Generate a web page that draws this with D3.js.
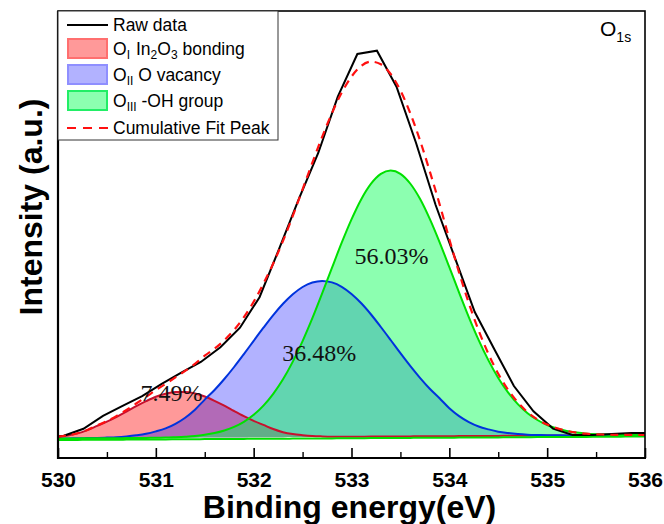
<!DOCTYPE html>
<html><head><meta charset="utf-8">
<script src="https://cdn.jsdelivr.net/npm/d3@7"></script>
<style>
html,body{margin:0;padding:0;background:#fff;}
svg{display:block;}
</style></head>
<body>
<svg id="chart" width="664" height="524"></svg>
<script>
// ---------- data ----------
const xTicks = [530, 531, 532, 533, 534, 535, 536];
const xMinorTicks = [530.5, 531.5, 532.5, 533.5, 534.5, 535.5];

// raw spectrum (0.2 eV step)
const rawEnergy = [529.86,530.06,530.26,530.46,530.66,530.86,531.06,531.26,531.46,531.66,
  531.86,532.06,532.26,532.46,532.66,532.86,533.06,533.26,533.46,533.66,
  533.86,534.06,534.26,534.46,534.66,534.86,535.06,535.26,535.46,535.66,535.86,536.06];
const rawIntensity = [20,22.2,29.2,42.1,52.1,61.8,74.2,85.4,96,110.8,
  130.3,160.8,209.1,258.7,305,361.3,404,407.3,371.3,315,
  253,199.3,146,108.7,72,46.7,29.4,23,23,24,25,25];

// fit grid (0.1 eV step)
const fitEnergy = [530.0,530.1,530.2,530.3,530.4,530.5,530.6,530.7,530.8,530.9,
  531.0,531.1,531.2,531.3,531.4,531.5,531.6,531.7,531.8,531.9,
  532.0,532.1,532.2,532.3,532.4,532.5,532.6,532.7,532.8,532.9,
  533.0,533.1,533.2,533.3,533.4,533.5,533.6,533.7,533.8,533.9,
  534.0,534.1,534.2,534.3,534.4,534.5,534.6,534.7,534.8,534.9,
  535.0,535.1,535.2,535.3,535.4,535.5,535.6,535.7,535.8,535.9,536.0];
const background = [19.5,19.6,19.6,19.7,19.7,19.8,19.8,19.9,20.0,20.0,
  20.1,20.1,20.2,20.3,20.3,20.4,20.4,20.5,20.5,20.6,
  20.7,20.7,20.8,20.8,20.9,21.0,21.0,21.1,21.1,21.2,
  21.2,21.3,21.4,21.4,21.5,21.5,21.6,21.7,21.7,21.8,
  21.8,21.9,21.9,22.0,22.1,22.1,22.2,22.2,22.3,22.4,
  22.4,22.5,22.5,22.6,22.6,22.7,22.8,22.8,22.9,22.9,23.0];
// peak heights above background
const peakI = [1.8,3.0,5.0,8.2,12.4,16.5,21.3,26.5,31.8,36.8,
  41.1,44.2,45.8,45.8,44.2,41.1,36.8,31.8,26.5,21.3,
  16.5,12.4,8.2,5.0,3.0,1.8,1.0,0.5,0.25,0.1,
  0,0,0,0,0,0,0,0,0,0,
  0,0,0,0,0,0,0,0,0,0,
  0,0,0,0,0,0,0,0,0,0,0];
const peakII = [0,0,0.1,0.2,0.4,0.6,1.0,1.7,2.7,4.2,
  6.5,9.5,14,20,28,38.0,47.6,58.5,70.5,83.3,
  96.5,109.6,122.1,133.4,142.8,150.0,154.5,156,154.5,150.0,
  142.8,133.4,122.1,109.6,96.5,83.3,70.5,58.5,47.6,38.0,
  28,20,14,9.5,6.5,4.2,2.7,1.7,1.0,0.6,
  0.4,0.2,0.1,0,0,0,0,0,0,0,0];
const peakIII = [0,0,0,0,0,0,0,0,0,0.1,
  0.2,0.3,0.6,1.0,1.7,2.8,4.5,7.0,10.6,15.6,
  22.5,31.7,43.4,57.9,75.5,95.9,118.8,143.5,169.0,194.1,
  217.4,237.5,252.9,262.7,266,262.7,252.9,237.5,217.4,194.1,
  169.0,143.5,118.8,95.9,75.5,57.9,43.4,31.7,22.5,15.6,
  10.6,7.0,4.5,2.8,1.7,1.0,0.6,0.3,0.2,0.1,0];

const peakLabels = ["7.49%", "36.48%", "56.03%"];
const peakLabelPos = [[531.16, 57], [532.67, 97], [533.41, 194]];

// ---------- layout ----------
const svg = d3.select("#chart");
const L = 58, R = 645, T = 11, B = 458;
const x = d3.scaleLinear().domain([530, 536]).range([L, R]);
const y = d3.scaleLinear().domain([0, 447]).range([B, T]);

svg.append("defs").append("clipPath").attr("id","clip")
  .append("rect").attr("x",L).attr("y",T).attr("width",R-L).attr("height",B-T);

const plot = svg.append("g").attr("clip-path","url(#clip)");

const comps = [
  {h: peakI,   fill: "rgba(255,0,0,0.40)",   stroke: "#c8102e"},
  {h: peakII,  fill: "rgba(0,0,255,0.30)",   stroke: "#0033dd"},
  {h: peakIII, fill: "rgba(0,255,80,0.45)",  stroke: "#00e000"}
];

const area = d3.area().x(d => x(d.e)).y0(d => y(d.b)).y1(d => y(d.b + d.h)).curve(d3.curveMonotoneX);
const line = d3.line().x(d => x(d.e)).y(d => y(d.v)).curve(d3.curveMonotoneX);

comps.forEach(c => {
  const pts = fitEnergy.map((e,i) => ({e, b: background[i], h: c.h[i]}));
  plot.append("path").datum(pts).attr("d", area).attr("fill", c.fill).attr("stroke","none");
});
comps.forEach(c => {
  const pts = fitEnergy.map((e,i) => ({e, v: background[i] + c.h[i]}));
  plot.append("path").datum(pts).attr("d", line).attr("fill","none")
    .attr("stroke", c.stroke).attr("stroke-width", 2);
});
// baseline (green) slightly under the peak bases
plot.append("path").datum(fitEnergy.map((e,i) => ({e, v: background[i]})))
  .attr("d", line).attr("transform","translate(0,1.5)")
  .attr("fill","none").attr("stroke","#00e000").attr("stroke-width",2);

// raw data
plot.append("path")
  .datum(rawEnergy.map((e,i) => ({e, v: rawIntensity[i]})))
  .attr("d", d3.line().x(d => x(d.e)).y(d => y(d.v)))
  .attr("fill","none").attr("stroke","#000").attr("stroke-width",2);

// cumulative fit = background + sum of components
const cumulative = fitEnergy.map((e,i) => ({e, v: background[i] + peakI[i] + peakII[i] + peakIII[i]}));
plot.append("path").datum(cumulative).attr("d", line)
  .attr("fill","none").attr("stroke","#ff1010").attr("stroke-width",2.2)
  .attr("stroke-dasharray","8,6");

// percentage labels
plot.selectAll("text.pct").data(peakLabels).join("text")
  .attr("class","pct")
  .attr("x",(d,i) => x(peakLabelPos[i][0]))
  .attr("y",(d,i) => y(peakLabelPos[i][1]))
  .attr("text-anchor","middle")
  .attr("font-family","'Liberation Serif','Times New Roman',serif")
  .attr("font-size",24).attr("fill","#111").text(d => d);

// frame
svg.append("rect").attr("x",L).attr("y",T).attr("width",R-L).attr("height",B-T)
  .attr("fill","none").attr("stroke","#000").attr("stroke-width",1.6);
svg.append("line").attr("x1",L).attr("x2",L).attr("y1",T).attr("y2",B+1)
  .attr("stroke","#000").attr("stroke-width",2.2);
svg.append("line").attr("x1",L-1).attr("x2",R+1).attr("y1",B).attr("y2",B)
  .attr("stroke","#000").attr("stroke-width",2.2);

// x axis ticks (inward)
const xAxis = d3.axisBottom(x).tickValues(xTicks).tickSizeInner(-10).tickSizeOuter(0).tickPadding(14)
  .tickFormat(d3.format("d"));
const gx = svg.append("g").attr("transform",`translate(0,${B})`).call(xAxis);
gx.select(".domain").remove();
gx.selectAll(".tick line").attr("stroke","#000").attr("stroke-width",1.6);
gx.selectAll(".tick text").attr("font-family","'Liberation Sans',Arial,sans-serif")
  .attr("font-weight","bold").attr("font-size",21).attr("fill","#000");
const xMinor = d3.axisBottom(x).tickValues(xMinorTicks).tickSizeInner(-6).tickSizeOuter(0).tickFormat("");
const gxm = svg.append("g").attr("transform",`translate(0,${B})`).call(xMinor);
gxm.select(".domain").remove();
gxm.selectAll(".tick line").attr("stroke","#000").attr("stroke-width",1.4);

// axis titles
svg.append("text").attr("x",(L+R)/2 - 2).attr("y",518).attr("text-anchor","middle")
  .attr("font-family","'Liberation Sans',Arial,sans-serif").attr("font-weight","bold")
  .attr("font-size",32).text("Binding energy(eV)");
svg.append("text").attr("transform","translate(42,207) rotate(-90)").attr("text-anchor","middle")
  .attr("font-family","'Liberation Sans',Arial,sans-serif").attr("font-weight","bold")
  .attr("font-size",32).text("Intensity (a.u.)");

// O1s label
const o1s = svg.append("text").attr("x",600).attr("y",36)
  .attr("font-family","'Liberation Sans',Arial,sans-serif").attr("font-size",21);
o1s.append("tspan").text("O");
o1s.append("tspan").attr("font-size",14).attr("dy",6).text("1s");

// legend
const lg = svg.append("g").attr("font-family","'Liberation Sans',Arial,sans-serif").attr("font-size",17.5);
lg.append("rect").attr("x",L).attr("y",T).attr("width",220).attr("height",129)
  .attr("fill","#fff").attr("stroke","#333").attr("stroke-width",1);
const rowY = [25, 49, 75, 101, 128];
lg.append("line").attr("x1",67).attr("x2",108).attr("y1",rowY[0]).attr("y2",rowY[0])
  .attr("stroke","#000").attr("stroke-width",2);
const swFill = ["rgba(255,0,0,0.40)","rgba(0,0,255,0.30)","rgba(0,255,80,0.45)"];
const swStroke = ["#ff6f6f","#8f8fff","#22ee66"];
[1,2,3].forEach((r,i) => {
  lg.append("rect").attr("x",68).attr("y",rowY[r]-10).attr("width",39).attr("height",19)
    .attr("fill",swFill[i]).attr("stroke",swStroke[i]).attr("stroke-width",2);
});
lg.append("line").attr("x1",67).attr("x2",108).attr("y1",rowY[4]).attr("y2",rowY[4])
  .attr("stroke","#ff1010").attr("stroke-width",2.2).attr("stroke-dasharray","9,7");

function legText(row, parts){
  const t = lg.append("text").attr("x",113).attr("y",rowY[row]+6).attr("xml:space","preserve");
  parts.forEach(p => {
    const s = t.append("tspan").text(p[0]);
    if (p[1] === "sub") { s.attr("font-size",12).attr("dy",4); }
    if (p[1] === "up") { s.attr("dy",-4); }
    if (p[2]) s.attr("dx",p[2]);
  });
}
legText(0, [["Raw data"]]);
legText(1, [["O"],["I","sub"],["In","up",6],["2","sub"],["O","up"],["3","sub"],[" bonding","up"]]);
legText(2, [["O"],["II","sub"],[" O vacancy","up"]]);
legText(3, [["O"],["III","sub"],[" -OH group","up"]]);
legText(4, [["Cumulative Fit Peak"]]);
</script>
</body></html>
